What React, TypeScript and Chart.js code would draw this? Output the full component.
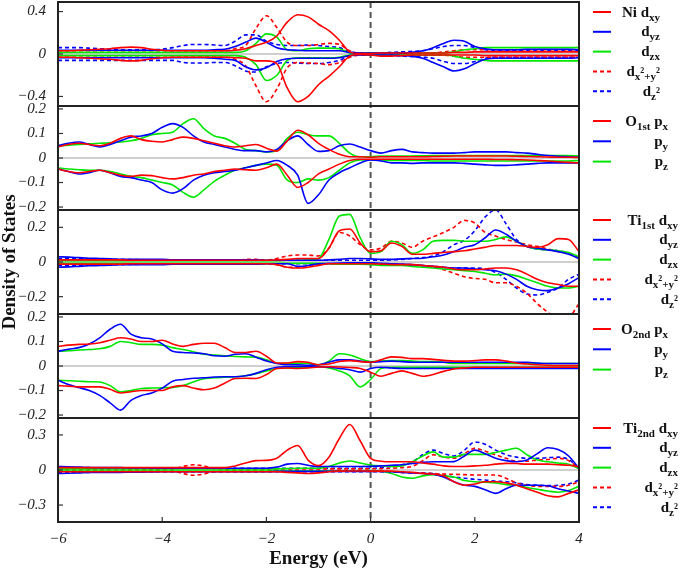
import React, { useEffect, useRef } from 'react';
import { Chart, registerables } from 'chart.js';

Chart.register(...registerables);

// ---------------- data ----------------
const ENERGY = [-6, -5.8, -5.6, -5.4, -5.2, -5, -4.8, -4.6, -4.4, -4.2,
  -4, -3.8, -3.6, -3.4, -3.2, -3, -2.8, -2.6, -2.4, -2.2,
  -2, -1.8, -1.6, -1.4, -1.2, -1, -0.8, -0.6, -0.4, -0.2,
  0, 0.2, 0.4, 0.6, 0.8, 1, 1.2, 1.4, 1.6, 1.8,
  2, 2.2, 2.4, 2.6, 2.8, 3, 3.2, 3.4, 3.6, 3.8,
  4];

const X_TICKS = [-6, -4, -2, 0, 2, 4];
const NI_TICKS = [-0.4, 0, 0.4];
const O1_TICKS = [-0.2, -0.1, 0, 0.1, 0.2];
const TI1_TICKS = [-0.2, 0, 0.2];
const O2_TICKS = [-0.2, -0.1, 0, 0.1, 0.2];
const TI2_TICKS = [-0.3, 0, 0.3];

const NI_LABELS = ['Ni d_{xy}', 'd_{yz}', 'd_{zx}', 'd_{x^2+y^2}', 'd_{z^2}'];
const O1_LABELS = ['O_{1st} p_{x}', 'p_{y}', 'p_{z}'];
const TI1_LABELS = ['Ti_{1st} d_{xy}', 'd_{yz}', 'd_{zx}', 'd_{x^2+y^2}', 'd_{z^2}'];
const O2_LABELS = ['O_{2nd} p_{x}', 'p_{y}', 'p_{z}'];
const TI2_LABELS = ['Ti_{2nd} d_{xy}', 'd_{yz}', 'd_{zx}', 'd_{x^2+y^2}', 'd_{z^2}'];

// Ni
const NI_DXY_UP = [0.03, 0.03, 0.035, 0.04, 0.045, 0.05, 0.06, 0.065, 0.06, 0.045,
  0.035, 0.03, 0.03, 0.03, 0.03, 0.03, 0.03, 0.035, 0.05, 0.08,
  0.11, 0.17, 0.3, 0.37, 0.35, 0.28, 0.22, 0.13, 0.02, 0.005,
  0.005, 0.01, 0.01, 0.01, 0.01, 0.01, 0.01, 0.01, 0.015, 0.015,
  0.02, 0.02, 0.02, 0.02, 0.02, 0.02, 0.02, 0.02, 0.02, 0.02,
  0.02];
const NI_DXY_DN = [-0.03, -0.03, -0.035, -0.04, -0.045, -0.05, -0.06, -0.065, -0.06, -0.045,
  -0.035, -0.03, -0.03, -0.03, -0.03, -0.03, -0.03, -0.035, -0.04, -0.065,
  -0.065, -0.09, -0.32, -0.45, -0.4, -0.29, -0.21, -0.12, -0.02, -0.005,
  -0.01, -0.02, -0.02, -0.015, -0.01, -0.01, -0.01, -0.01, -0.01, -0.01,
  -0.01, -0.015, -0.015, -0.015, -0.015, -0.015, -0.015, -0.015, -0.015, -0.015,
  -0.015];
const NI_DYZ_UP = [0.035, 0.035, 0.035, 0.035, 0.035, 0.035, 0.035, 0.035, 0.035, 0.035,
  0.035, 0.035, 0.035, 0.035, 0.035, 0.04, 0.045, 0.07, 0.11, 0.15,
  0.11, 0.06, 0.04, 0.035, 0.03, 0.03, 0.03, 0.03, 0.015, 0.01,
  0.01, 0.01, 0.01, 0.01, 0.015, 0.03, 0.06, 0.1, 0.13, 0.12,
  0.07, 0.05, 0.04, 0.04, 0.04, 0.045, 0.045, 0.045, 0.045, 0.045,
  0.04];
const NI_DYZ_DN = [-0.035, -0.035, -0.035, -0.035, -0.035, -0.035, -0.035, -0.035, -0.035, -0.035,
  -0.035, -0.035, -0.035, -0.035, -0.035, -0.04, -0.05, -0.06, -0.12, -0.15,
  -0.13, -0.07, -0.045, -0.04, -0.04, -0.04, -0.04, -0.035, -0.015, -0.01,
  -0.01, -0.01, -0.01, -0.015, -0.02, -0.04, -0.08, -0.12, -0.16, -0.14,
  -0.09, -0.05, -0.04, -0.04, -0.04, -0.04, -0.04, -0.04, -0.04, -0.04,
  -0.035];
const NI_DZX_UP = [0.015, 0.015, 0.015, 0.015, 0.015, 0.015, 0.015, 0.015, 0.015, 0.015,
  0.015, 0.015, 0.015, 0.015, 0.015, 0.015, 0.015, 0.015, 0.03, 0.1,
  0.19, 0.16, 0.04, 0.03, 0.05, 0.055, 0.055, 0.05, 0.01, 0.005,
  0.01, 0.01, 0.01, 0.01, 0.01, 0.01, 0.01, 0.01, 0.02, 0.04,
  0.05, 0.06, 0.06, 0.06, 0.06, 0.06, 0.06, 0.06, 0.06, 0.06,
  0.06];
const NI_DZX_DN = [-0.015, -0.015, -0.015, -0.015, -0.015, -0.015, -0.015, -0.015, -0.015, -0.015,
  -0.015, -0.015, -0.015, -0.015, -0.015, -0.015, -0.015, -0.015, -0.03, -0.1,
  -0.25, -0.2, -0.06, -0.035, -0.035, -0.035, -0.035, -0.03, -0.01, -0.005,
  -0.01, -0.01, -0.01, -0.01, -0.01, -0.01, -0.01, -0.01, -0.02, -0.04,
  -0.05, -0.06, -0.065, -0.065, -0.065, -0.065, -0.065, -0.065, -0.065, -0.065,
  -0.065];
const NI_DX2_UP = [0.03, 0.03, 0.03, 0.03, 0.03, 0.03, 0.03, 0.03, 0.03, 0.03,
  0.03, 0.03, 0.03, 0.03, 0.03, 0.03, 0.03, 0.05, 0.08, 0.24,
  0.36, 0.25, 0.11, 0.08, 0.08, 0.09, 0.1, 0.09, 0.03, 0.01,
  0.01, 0.01, 0.01, 0.01, 0.01, 0.01, 0.01, 0.02, 0.03, 0.04,
  0.04, 0.04, 0.04, 0.04, 0.04, 0.04, 0.04, 0.04, 0.04, 0.04,
  0.04];
const NI_DX2_DN = [-0.03, -0.03, -0.03, -0.03, -0.03, -0.03, -0.03, -0.03, -0.03, -0.03,
  -0.03, -0.03, -0.03, -0.03, -0.03, -0.03, -0.03, -0.05, -0.11, -0.3,
  -0.45, -0.33, -0.13, -0.08, -0.085, -0.09, -0.1, -0.08, -0.03, -0.01,
  -0.01, -0.01, -0.01, -0.01, -0.01, -0.01, -0.01, -0.01, -0.02, -0.03,
  -0.03, -0.03, -0.03, -0.03, -0.03, -0.03, -0.03, -0.03, -0.03, -0.03,
  -0.03];
const NI_DZ2_UP = [0.06, 0.06, 0.06, 0.055, 0.05, 0.045, 0.04, 0.04, 0.04, 0.04,
  0.045, 0.06, 0.08, 0.09, 0.09, 0.085, 0.08, 0.12, 0.18, 0.18,
  0.12, 0.09, 0.08, 0.08, 0.085, 0.08, 0.07, 0.06, 0.02, 0.01,
  0.01, 0.01, 0.015, 0.02, 0.025, 0.03, 0.05, 0.07, 0.08, 0.08,
  0.06, 0.04, 0.03, 0.03, 0.03, 0.03, 0.03, 0.03, 0.03, 0.03,
  0.03];
const NI_DZ2_DN = [-0.06, -0.06, -0.06, -0.06, -0.06, -0.06, -0.06, -0.06, -0.06, -0.06,
  -0.06, -0.06, -0.08, -0.085, -0.085, -0.08, -0.08, -0.11, -0.16, -0.17,
  -0.12, -0.09, -0.08, -0.085, -0.09, -0.09, -0.08, -0.06, -0.02, -0.01,
  -0.01, -0.01, -0.015, -0.02, -0.025, -0.03, -0.04, -0.07, -0.09, -0.09,
  -0.07, -0.04, -0.03, -0.03, -0.03, -0.03, -0.03, -0.03, -0.03, -0.03,
  -0.03];

// O 1st
const O1_PX_UP = [0.045, 0.055, 0.06, 0.055, 0.05, 0.06, 0.08, 0.09, 0.075, 0.068,
  0.065, 0.075, 0.085, 0.08, 0.07, 0.06, 0.05, 0.045, 0.05, 0.055,
  0.04, 0.028, 0.07, 0.113, 0.095, 0.06, 0.035, 0.015, 0.005, 0.005,
  0.003, 0.005, 0.005, 0.005, 0.005, 0.005, 0.006, 0.007, 0.008, 0.008,
  0.008, 0.008, 0.008, 0.008, 0.007, 0.006, 0.005, 0.004, 0.003, 0.003,
  0.002];
const O1_PX_DN = [-0.045, -0.055, -0.06, -0.055, -0.05, -0.06, -0.07, -0.075, -0.07, -0.072,
  -0.08, -0.085, -0.08, -0.07, -0.065, -0.055, -0.05, -0.045, -0.048, -0.05,
  -0.04, -0.025, -0.07, -0.12, -0.1, -0.065, -0.045, -0.025, -0.01, -0.005,
  -0.005, -0.005, -0.005, -0.005, -0.005, -0.005, -0.005, -0.005, -0.005, -0.005,
  -0.005, -0.005, -0.006, -0.006, -0.007, -0.008, -0.01, -0.012, -0.015, -0.018,
  -0.02];
const O1_PY_UP = [0.05, 0.06, 0.065, 0.055, 0.045, 0.055, 0.07, 0.085, 0.09, 0.1,
  0.125, 0.14, 0.125, 0.09, 0.065, 0.055, 0.045, 0.035, 0.03, 0.03,
  0.025, 0.035, 0.07, 0.09, 0.055, 0.027, 0.03, 0.05, 0.057, 0.045,
  0.03, 0.02, 0.03, 0.035, 0.025, 0.022, 0.02, 0.02, 0.02, 0.022,
  0.025, 0.025, 0.025, 0.025, 0.022, 0.02, 0.015, 0.01, 0.007, 0.005,
  0.003];
const O1_PY_DN = [-0.045, -0.055, -0.065, -0.06, -0.05, -0.06, -0.075, -0.08, -0.09, -0.1,
  -0.13, -0.143, -0.125, -0.09, -0.07, -0.06, -0.055, -0.05, -0.04, -0.03,
  -0.02, -0.01, -0.03, -0.07, -0.185, -0.15, -0.09, -0.06, -0.04, -0.02,
  -0.008, -0.012, -0.02, -0.02, -0.022, -0.02, -0.02, -0.02, -0.02, -0.022,
  -0.025, -0.028, -0.03, -0.03, -0.028, -0.025, -0.022, -0.02, -0.02, -0.02,
  -0.02];
const O1_PZ_UP = [0.05, 0.052, 0.055, 0.058, 0.06, 0.062, 0.065, 0.07, 0.08, 0.095,
  0.1, 0.105, 0.14, 0.16, 0.12, 0.09, 0.08, 0.06, 0.035, 0.03,
  0.025, 0.03, 0.08, 0.105, 0.095, 0.09, 0.09, 0.06, 0.02, 0.005,
  0.005, 0.008, 0.008, 0.008, 0.008, 0.009, 0.01, 0.01, 0.01, 0.01,
  0.01, 0.01, 0.01, 0.01, 0.01, 0.01, 0.01, 0.01, 0.01, 0.01,
  0.008];
const O1_PZ_DN = [-0.04, -0.045, -0.048, -0.05, -0.05, -0.055, -0.065, -0.075, -0.08, -0.09,
  -0.1, -0.11, -0.14, -0.16, -0.13, -0.095, -0.07, -0.05, -0.04, -0.03,
  -0.025, -0.03, -0.09, -0.1, -0.085, -0.09, -0.08, -0.05, -0.02, -0.008,
  -0.008, -0.008, -0.01, -0.01, -0.01, -0.01, -0.012, -0.012, -0.012, -0.012,
  -0.012, -0.012, -0.012, -0.012, -0.012, -0.012, -0.012, -0.012, -0.012, -0.012,
  -0.01];

// Ti 1st
const TI1_DXY_UP = [0.012, 0.012, 0.012, 0.012, 0.012, 0.012, 0.012, 0.01, 0.01, 0.01,
  0.01, 0.01, 0.01, 0.01, 0.01, 0.01, 0.01, 0.01, 0.01, 0.01,
  0.01, 0.012, 0.015, 0.02, 0.02, 0.02, 0.08, 0.18, 0.19, 0.11,
  0.06, 0.065, 0.11, 0.09, 0.045, 0.045, 0.05, 0.055, 0.06, 0.065,
  0.075, 0.085, 0.095, 0.095, 0.095, 0.09, 0.085, 0.1, 0.135, 0.13,
  0.06];
const TI1_DXY_DN = [-0.012, -0.012, -0.012, -0.012, -0.012, -0.012, -0.012, -0.01, -0.01, -0.01,
  -0.01, -0.01, -0.01, -0.01, -0.01, -0.01, -0.01, -0.01, -0.01, -0.01,
  -0.01, -0.015, -0.03, -0.035, -0.03, -0.02, -0.01, -0.01, -0.01, -0.01,
  -0.01, -0.012, -0.015, -0.015, -0.015, -0.02, -0.025, -0.03, -0.04, -0.045,
  -0.045, -0.04, -0.035, -0.035, -0.045, -0.07, -0.1, -0.12, -0.13, -0.14,
  -0.14];
const TI1_DYZ_UP = [0.03, 0.028, 0.025, 0.022, 0.02, 0.018, 0.015, 0.015, 0.015, 0.015,
  0.015, 0.012, 0.012, 0.012, 0.012, 0.012, 0.012, 0.012, 0.012, 0.012,
  0.01, 0.01, 0.01, 0.01, 0.01, 0.01, 0.012, 0.015, 0.02, 0.02,
  0.018, 0.015, 0.015, 0.018, 0.02, 0.022, 0.03, 0.04, 0.06, 0.085,
  0.1, 0.14, 0.185, 0.16, 0.12, 0.09, 0.08, 0.07, 0.06, 0.045,
  0.02];
const TI1_DYZ_DN = [-0.03, -0.028, -0.025, -0.022, -0.02, -0.018, -0.015, -0.015, -0.015, -0.015,
  -0.015, -0.012, -0.012, -0.012, -0.012, -0.012, -0.012, -0.012, -0.012, -0.012,
  -0.01, -0.01, -0.01, -0.025, -0.02, -0.01, -0.008, -0.006, -0.005, -0.005,
  -0.005, -0.008, -0.01, -0.012, -0.015, -0.02, -0.025, -0.03, -0.035, -0.035,
  -0.04, -0.045, -0.05, -0.07, -0.1, -0.14, -0.16, -0.165, -0.15, -0.125,
  -0.09];
const TI1_DZX_UP = [0.008, 0.008, 0.008, 0.008, 0.008, 0.008, 0.008, 0.008, 0.008, 0.008,
  0.008, 0.008, 0.008, 0.008, 0.008, 0.008, 0.008, 0.008, 0.008, 0.008,
  0.008, 0.008, 0.01, 0.01, 0.012, 0.02, 0.13, 0.265, 0.275, 0.14,
  0.05, 0.06, 0.12, 0.1, 0.05, 0.07, 0.12, 0.125, 0.125, 0.12,
  0.12, 0.12, 0.13, 0.145, 0.12, 0.09, 0.075, 0.07, 0.065, 0.055,
  0.03];
const TI1_DZX_DN = [-0.008, -0.008, -0.008, -0.008, -0.008, -0.008, -0.008, -0.008, -0.008, -0.008,
  -0.008, -0.008, -0.008, -0.008, -0.008, -0.008, -0.008, -0.008, -0.008, -0.008,
  -0.008, -0.008, -0.008, -0.008, -0.008, -0.008, -0.01, -0.012, -0.012, -0.012,
  -0.015, -0.02, -0.02, -0.02, -0.025, -0.03, -0.035, -0.04, -0.045, -0.05,
  -0.055, -0.065, -0.075, -0.07, -0.08, -0.1, -0.12, -0.14, -0.15, -0.15,
  -0.14];
const TI1_DX2_UP = [0.01, 0.01, 0.01, 0.01, 0.01, 0.01, 0.01, 0.01, 0.01, 0.01,
  0.01, 0.01, 0.01, 0.01, 0.01, 0.01, 0.01, 0.01, 0.015, 0.015,
  0.01, 0.02, 0.035, 0.04, 0.04, 0.035, 0.08, 0.17, 0.15, 0.1,
  0.07, 0.08, 0.12, 0.11, 0.085, 0.12, 0.145, 0.17, 0.2, 0.24,
  0.225, 0.17, 0.15, 0.13, 0.115, 0.1, 0.09, 0.075, 0.06, 0.05,
  0.025];
const TI1_DX2_DN = [-0.01, -0.01, -0.01, -0.01, -0.01, -0.01, -0.01, -0.01, -0.01, -0.01,
  -0.01, -0.01, -0.01, -0.01, -0.01, -0.01, -0.01, -0.01, -0.01, -0.01,
  -0.01, -0.015, -0.03, -0.03, -0.025, -0.015, -0.01, -0.01, -0.01, -0.01,
  -0.01, -0.012, -0.012, -0.015, -0.015, -0.02, -0.03, -0.045, -0.065, -0.085,
  -0.095, -0.1, -0.12, -0.12, -0.14, -0.18, -0.24, -0.29, -0.33, -0.32,
  -0.24];
const TI1_DZ2_UP = [0.02, 0.02, 0.02, 0.018, 0.016, 0.015, 0.015, 0.014, 0.013, 0.012,
  0.01, 0.01, 0.01, 0.01, 0.01, 0.01, 0.01, 0.01, 0.01, 0.01,
  0.01, 0.01, 0.01, 0.01, 0.01, 0.01, 0.01, 0.01, 0.01, 0.01,
  0.01, 0.01, 0.012, 0.015, 0.02, 0.025, 0.035, 0.06, 0.1, 0.125,
  0.18, 0.26, 0.3, 0.22, 0.13, 0.09, 0.075, 0.07, 0.065, 0.05,
  0.025];
const TI1_DZ2_DN = [-0.02, -0.02, -0.02, -0.018, -0.016, -0.015, -0.015, -0.014, -0.013, -0.012,
  -0.01, -0.01, -0.01, -0.01, -0.01, -0.01, -0.01, -0.01, -0.01, -0.01,
  -0.01, -0.01, -0.01, -0.01, -0.01, -0.01, -0.01, -0.01, -0.01, -0.01,
  -0.01, -0.01, -0.012, -0.015, -0.018, -0.02, -0.025, -0.03, -0.035, -0.035,
  -0.035, -0.04, -0.06, -0.1, -0.15, -0.185, -0.19, -0.175, -0.15, -0.1,
  -0.07];

// O 2nd
const O2_PX_UP = [0.08, 0.085, 0.088, 0.09, 0.095, 0.105, 0.115, 0.11, 0.1, 0.1,
  0.105, 0.09, 0.08, 0.088, 0.093, 0.093, 0.075, 0.055, 0.055, 0.06,
  0.04, 0.012, 0.012, 0.018, 0.015, 0.005, 0.008, 0.018, 0.022, 0.018,
  0.015, 0.025, 0.037, 0.035, 0.03, 0.03, 0.027, 0.023, 0.02, 0.02,
  0.022, 0.025, 0.025, 0.02, 0.012, 0.008, 0.005, 0.003, 0.002, 0.002,
  0.002];
const O2_PX_DN = [-0.08, -0.082, -0.085, -0.085, -0.085, -0.095, -0.11, -0.105, -0.1, -0.1,
  -0.1, -0.085, -0.08, -0.09, -0.097, -0.09, -0.07, -0.051, -0.05, -0.051,
  -0.035, -0.01, -0.008, -0.01, -0.008, -0.004, -0.003, -0.004, -0.006, -0.01,
  -0.025, -0.042, -0.03, -0.02, -0.03, -0.042, -0.035, -0.022, -0.012, -0.008,
  -0.005, -0.005, -0.005, -0.005, -0.005, -0.005, -0.005, -0.005, -0.005, -0.005,
  -0.005];
const O2_PY_UP = [0.06, 0.068, 0.075, 0.09, 0.115, 0.15, 0.17, 0.13, 0.115, 0.11,
  0.09, 0.06, 0.055, 0.053, 0.05, 0.042, 0.04, 0.048, 0.05, 0.036,
  0.02, 0.01, 0.005, 0.005, 0.003, 0.005, 0.015, 0.025, 0.025, 0.02,
  0.015, 0.018, 0.02, 0.018, 0.015, 0.015, 0.015, 0.015, 0.015, 0.015,
  0.015, 0.015, 0.015, 0.015, 0.015, 0.015, 0.012, 0.01, 0.01, 0.01,
  0.01];
const O2_PY_DN = [-0.058, -0.075, -0.088, -0.1, -0.12, -0.15, -0.18, -0.14, -0.12, -0.11,
  -0.09, -0.062, -0.055, -0.05, -0.048, -0.045, -0.044, -0.044, -0.04, -0.03,
  -0.015, -0.005, -0.003, -0.002, -0.002, -0.003, -0.005, -0.01, -0.015, -0.025,
  -0.01, -0.005, -0.008, -0.01, -0.01, -0.01, -0.01, -0.01, -0.01, -0.01,
  -0.01, -0.01, -0.01, -0.01, -0.01, -0.01, -0.01, -0.01, -0.01, -0.01,
  -0.01];
const O2_PZ_UP = [0.06, 0.062, 0.065, 0.067, 0.07, 0.08, 0.1, 0.095, 0.088, 0.088,
  0.085, 0.075, 0.067, 0.058, 0.048, 0.045, 0.042, 0.039, 0.037, 0.036,
  0.025, 0.011, 0.01, 0.011, 0.01, 0.005, 0.02, 0.05, 0.045, 0.03,
  0.018, 0.02, 0.022, 0.022, 0.02, 0.018, 0.018, 0.015, 0.01, 0.01,
  0.01, 0.01, 0.01, 0.01, 0.01, 0.01, 0.01, 0.01, 0.01, 0.01,
  0.01];
const O2_PZ_DN = [-0.058, -0.06, -0.062, -0.064, -0.065, -0.08, -0.105, -0.1, -0.092, -0.09,
  -0.089, -0.087, -0.08, -0.065, -0.052, -0.048, -0.046, -0.044, -0.04, -0.031,
  -0.02, -0.01, -0.008, -0.006, -0.005, -0.003, -0.008, -0.02, -0.04, -0.085,
  -0.055, -0.01, -0.005, -0.005, -0.005, -0.005, -0.005, -0.005, -0.005, -0.005,
  -0.005, -0.005, -0.005, -0.005, -0.005, -0.005, -0.005, -0.005, -0.005, -0.005,
  -0.005];

// Ti 2nd
const TI2_DXY_UP = [0.02, 0.02, 0.02, 0.02, 0.02, 0.02, 0.02, 0.02, 0.02, 0.02,
  0.02, 0.02, 0.02, 0.02, 0.02, 0.02, 0.02, 0.035, 0.06, 0.08,
  0.082, 0.1, 0.17, 0.21, 0.085, 0.038, 0.11, 0.27, 0.39, 0.25,
  0.1, 0.075, 0.07, 0.07, 0.07, 0.06, 0.05, 0.035, 0.03, 0.03,
  0.035, 0.04, 0.05, 0.057, 0.055, 0.05, 0.05, 0.05, 0.045, 0.04,
  0.03];
const TI2_DXY_DN = [-0.015, -0.015, -0.015, -0.015, -0.015, -0.015, -0.015, -0.015, -0.015, -0.015,
  -0.015, -0.015, -0.015, -0.015, -0.015, -0.015, -0.015, -0.015, -0.015, -0.015,
  -0.015, -0.015, -0.02, -0.025, -0.03, -0.025, -0.015, -0.01, -0.008, -0.008,
  -0.01, -0.01, -0.01, -0.015, -0.02, -0.03, -0.035, -0.05, -0.1, -0.13,
  -0.12, -0.1, -0.1, -0.11, -0.13, -0.16, -0.19, -0.22, -0.23, -0.2,
  -0.17];
const TI2_DYZ_UP = [0.03, 0.028, 0.025, 0.022, 0.02, 0.02, 0.02, 0.018, 0.018, 0.016,
  0.015, 0.015, 0.015, 0.015, 0.015, 0.015, 0.015, 0.015, 0.015, 0.015,
  0.015, 0.025, 0.05, 0.055, 0.04, 0.03, 0.03, 0.03, 0.03, 0.03,
  0.032, 0.035, 0.04, 0.045, 0.055, 0.065, 0.07, 0.07, 0.072, 0.12,
  0.17, 0.14, 0.1, 0.08, 0.07, 0.085, 0.14, 0.19, 0.175, 0.12,
  0.015];
const TI2_DYZ_DN = [-0.03, -0.028, -0.025, -0.022, -0.02, -0.02, -0.02, -0.018, -0.018, -0.016,
  -0.015, -0.015, -0.015, -0.015, -0.015, -0.015, -0.015, -0.015, -0.015, -0.015,
  -0.015, -0.012, -0.012, -0.012, -0.012, -0.012, -0.012, -0.012, -0.012, -0.012,
  -0.012, -0.013, -0.015, -0.02, -0.025, -0.03, -0.035, -0.06, -0.1, -0.13,
  -0.14, -0.17, -0.2, -0.16, -0.13, -0.13, -0.13, -0.135, -0.16, -0.18,
  -0.2];
const TI2_DZX_UP = [0.01, 0.01, 0.01, 0.01, 0.01, 0.01, 0.01, 0.01, 0.01, 0.01,
  0.01, 0.01, 0.01, 0.01, 0.01, 0.01, 0.01, 0.01, 0.01, 0.01,
  0.01, 0.01, 0.012, 0.015, 0.015, 0.015, 0.03, 0.06, 0.077, 0.06,
  0.043, 0.035, 0.03, 0.035, 0.07, 0.12, 0.155, 0.11, 0.11, 0.134,
  0.134, 0.134, 0.15, 0.17, 0.186, 0.13, 0.086, 0.07, 0.06, 0.05,
  0.01];
const TI2_DZX_DN = [-0.01, -0.01, -0.01, -0.01, -0.01, -0.01, -0.01, -0.01, -0.01, -0.01,
  -0.01, -0.01, -0.01, -0.01, -0.01, -0.01, -0.01, -0.01, -0.01, -0.01,
  -0.01, -0.01, -0.01, -0.01, -0.01, -0.01, -0.01, -0.01, -0.01, -0.01,
  -0.005, -0.01, -0.03, -0.06, -0.07, -0.05, -0.04, -0.05, -0.06, -0.09,
  -0.1, -0.105, -0.11, -0.125, -0.13, -0.15, -0.165, -0.18, -0.19, -0.175,
  -0.14];
const TI2_DX2_UP = [0.01, 0.01, 0.01, 0.01, 0.01, 0.01, 0.01, 0.01, 0.01, 0.01,
  0.01, 0.01, 0.03, 0.045, 0.035, 0.012, 0.01, 0.01, 0.01, 0.01,
  0.01, 0.01, 0.01, 0.01, 0.01, 0.01, 0.01, 0.01, 0.01, 0.01,
  0.01, 0.012, 0.015, 0.02, 0.03, 0.08, 0.13, 0.11, 0.1, 0.14,
  0.185, 0.16, 0.13, 0.1, 0.075, 0.075, 0.086, 0.09, 0.1, 0.08,
  0.015];
const TI2_DX2_DN = [-0.01, -0.01, -0.01, -0.01, -0.01, -0.01, -0.01, -0.01, -0.01, -0.01,
  -0.01, -0.01, -0.03, -0.045, -0.035, -0.012, -0.01, -0.01, -0.01, -0.01,
  -0.01, -0.01, -0.01, -0.01, -0.01, -0.01, -0.01, -0.01, -0.01, -0.01,
  -0.012, -0.012, -0.015, -0.02, -0.022, -0.025, -0.03, -0.035, -0.037, -0.04,
  -0.043, -0.043, -0.043, -0.07, -0.11, -0.13, -0.14, -0.14, -0.14, -0.13,
  -0.1];
const TI2_DZ2_UP = [0.02, 0.02, 0.02, 0.02, 0.018, 0.018, 0.016, 0.016, 0.015, 0.015,
  0.015, 0.015, 0.015, 0.015, 0.015, 0.015, 0.015, 0.015, 0.015, 0.015,
  0.015, 0.015, 0.015, 0.015, 0.015, 0.015, 0.015, 0.015, 0.015, 0.015,
  0.015, 0.02, 0.03, 0.045, 0.07, 0.13, 0.17, 0.14, 0.12, 0.17,
  0.24, 0.22, 0.17, 0.13, 0.11, 0.1, 0.1, 0.105, 0.11, 0.09,
  0.015];
const TI2_DZ2_DN = [-0.02, -0.02, -0.02, -0.02, -0.018, -0.018, -0.016, -0.016, -0.015, -0.015,
  -0.015, -0.015, -0.015, -0.015, -0.015, -0.015, -0.015, -0.015, -0.015, -0.015,
  -0.015, -0.015, -0.015, -0.015, -0.015, -0.015, -0.015, -0.015, -0.015, -0.015,
  -0.012, -0.015, -0.018, -0.02, -0.025, -0.028, -0.03, -0.045, -0.06, -0.07,
  -0.08, -0.086, -0.095, -0.1, -0.11, -0.125, -0.13, -0.134, -0.13, -0.12,
  -0.086];

// ---------------- styling / assembly ----------------
const RED = '#ff0000';
const BLUE = '#0000ff';
const GREEN = '#00e600';
const SERIF = '"Liberation Serif", "Times New Roman", serif';

type S = { up: number[]; dn: number[]; color: string; dash: boolean };
type Panel = { id: string; range: number; ticks: number[]; labels: string[]; series: S[]; legendRight: number };

const d5 = (a: number[][]): S[] => [
  { up: a[0], dn: a[1], color: RED, dash: false },
  { up: a[2], dn: a[3], color: BLUE, dash: false },
  { up: a[4], dn: a[5], color: GREEN, dash: false },
  { up: a[6], dn: a[7], color: RED, dash: true },
  { up: a[8], dn: a[9], color: BLUE, dash: true },
];
const p3 = (a: number[][]): S[] => [
  { up: a[0], dn: a[1], color: RED, dash: false },
  { up: a[2], dn: a[3], color: BLUE, dash: false },
  { up: a[4], dn: a[5], color: GREEN, dash: false },
];

const PANELS: Panel[] = [
  { id: 'y1', range: 0.49, ticks: NI_TICKS, labels: NI_LABELS, legendRight: 81,
    series: d5([NI_DXY_UP, NI_DXY_DN, NI_DYZ_UP, NI_DYZ_DN, NI_DZX_UP, NI_DZX_DN, NI_DX2_UP, NI_DX2_DN, NI_DZ2_UP, NI_DZ2_DN]) },
  { id: 'y2', range: 0.212, ticks: O1_TICKS, labels: O1_LABELS, legendRight: 89,
    series: p3([O1_PX_UP, O1_PX_DN, O1_PY_UP, O1_PY_DN, O1_PZ_UP, O1_PZ_DN]) },
  { id: 'y3', range: 0.3, ticks: TI1_TICKS, labels: TI1_LABELS, legendRight: 99,
    series: d5([TI1_DXY_UP, TI1_DXY_DN, TI1_DYZ_UP, TI1_DYZ_DN, TI1_DZX_UP, TI1_DZX_DN, TI1_DX2_UP, TI1_DX2_DN, TI1_DZ2_UP, TI1_DZ2_DN]) },
  { id: 'y4', range: 0.212, ticks: O2_TICKS, labels: O2_LABELS, legendRight: 89,
    series: p3([O2_PX_UP, O2_PX_DN, O2_PY_UP, O2_PY_DN, O2_PZ_UP, O2_PZ_DN]) },
  { id: 'y5', range: 0.445, ticks: TI2_TICKS, labels: TI2_LABELS, legendRight: 99,
    series: d5([TI2_DXY_UP, TI2_DXY_DN, TI2_DYZ_UP, TI2_DYZ_DN, TI2_DZX_UP, TI2_DZX_DN, TI2_DX2_UP, TI2_DX2_DN, TI2_DZ2_UP, TI2_DZ2_DN]) },
];

const fmt = (v: number) => (v === 0 ? '0' : v < 0 ? '\u2212' + String(Math.abs(v)) : String(v));

function parseLabel(s: string) {
  const segs: { t: string; l: number }[] = [];
  let level = 0;
  let buf = '';
  const push = () => { if (buf) { segs.push({ t: buf, l: level }); buf = ''; } };
  for (let i = 0; i < s.length; i++) {
    const c = s[i];
    if (c === '_' && s[i + 1] === '{') { push(); level = 1; i++; }
    else if (c === '}') { push(); level = 0; }
    else if (c === '^') { push(); segs.push({ t: s[i + 1], l: 2 }); i++; }
    else buf += c;
  }
  push();
  return segs;
}

const LEVEL_FONT = [`bold 15px ${SERIF}`, `bold 11px ${SERIF}`, `bold 8px ${SERIF}`];
const LEVEL_DY = [0, 4, -3];

const decor = {
  id: 'decor',
  beforeDatasetsDraw(chart: any) {
    const { ctx, chartArea } = chart;
    ctx.save();
    ctx.strokeStyle = '#a0a0a0';
    ctx.lineWidth = 1.2;
    PANELS.forEach((p) => {
      const y = chart.scales[p.id].getPixelForValue(0);
      ctx.beginPath();
      ctx.moveTo(chartArea.left, y);
      ctx.lineTo(chartArea.right, y);
      ctx.stroke();
    });
    const x0 = chart.scales.x.getPixelForValue(0);
    ctx.strokeStyle = '#555555';
    ctx.lineWidth = 2;
    ctx.setLineDash([6, 4]);
    ctx.beginPath();
    ctx.moveTo(x0, chartArea.top);
    ctx.lineTo(x0, chartArea.bottom);
    ctx.stroke();
    ctx.restore();
  },
  afterDraw(chart: any) {
    const { ctx, chartArea } = chart;
    const { left, right, bottom } = chartArea;
    ctx.save();
    // tick marks (inward)
    ctx.strokeStyle = '#333';
    ctx.lineWidth = 1.2;
    PANELS.forEach((p) => {
      const s = chart.scales[p.id];
      p.ticks.forEach((v) => {
        const y = s.getPixelForValue(v);
        ctx.beginPath();
        ctx.moveTo(left, y);
        ctx.lineTo(left + 5, y);
        ctx.stroke();
      });
    });
    const xs = chart.scales.x;
    X_TICKS.forEach((v) => {
      const x = xs.getPixelForValue(v);
      ctx.beginPath();
      ctx.moveTo(x, bottom);
      ctx.lineTo(x, bottom - 5);
      ctx.stroke();
    });
    // frames
    ctx.strokeStyle = '#222';
    ctx.lineWidth = 2;
    PANELS.forEach((p) => {
      const s = chart.scales[p.id];
      ctx.strokeRect(left, s.top, right - left, s.bottom - s.top);
    });
    // legends
    PANELS.forEach((p) => {
      const s = chart.scales[p.id];
      const n = p.labels.length;
      const y0 = s.top + (n === 5 ? 10 : 15);
      const step = n === 5 ? 19.8 : 20.3;
      p.labels.forEach((lab, i) => {
        const y = y0 + i * step;
        const ser = p.series[i];
        ctx.strokeStyle = ser.color;
        ctx.lineWidth = 2;
        ctx.setLineDash(ser.dash ? [4, 3] : []);
        ctx.beginPath();
        ctx.moveTo(right + 14, y);
        ctx.lineTo(right + 32, y);
        ctx.stroke();
        ctx.setLineDash([]);
        const segs = parseLabel(lab);
        let w = 0;
        segs.forEach((sg) => { ctx.font = LEVEL_FONT[sg.l]; w += ctx.measureText(sg.t).width; });
        let x = right + p.legendRight - w;
        ctx.fillStyle = '#111';
        ctx.textBaseline = 'alphabetic';
        ctx.textAlign = 'left';
        segs.forEach((sg) => {
          ctx.font = LEVEL_FONT[sg.l];
          ctx.fillText(sg.t, x, y + 4.5 + LEVEL_DY[sg.l]);
          x += ctx.measureText(sg.t).width;
        });
      });
    });
    ctx.restore();
  },
};

export default function App() {
  const ref = useRef<HTMLCanvasElement | null>(null);
  useEffect(() => {
    if (!ref.current) return;
    const datasets: any[] = [];
    PANELS.forEach((p) => {
      p.series.forEach((s) => {
        [s.up, s.dn].forEach((arr) => {
          datasets.push({
            data: ENERGY.map((e, i) => ({ x: e, y: arr[i] })),
            yAxisID: p.id,
            xAxisID: 'x',
            borderColor: s.color,
            borderWidth: 1.6,
            borderDash: s.dash ? [4, 3] : [],
            pointRadius: 0,
            fill: false,
            cubicInterpolationMode: 'monotone',
          });
        });
      });
    });
    const scales: any = {
      x: {
        type: 'linear',
        position: 'bottom',
        min: -6,
        max: 4,
        grid: { display: false, drawTicks: false },
        border: { display: false },
        afterBuildTicks: (sc: any) => { sc.ticks = X_TICKS.map((v) => ({ value: v })); },
        afterFit: (sc: any) => {
          sc.height = 48;
          sc.paddingLeft = 0;
          sc.paddingRight = 0;
        },
        ticks: {
          autoSkip: false,
          maxRotation: 0,
          padding: 8,
          color: '#222',
          font: { family: SERIF, size: 15, style: 'italic' },
          callback: (v: any) => fmt(Number(v)),
        },
        title: {
          display: true,
          text: 'Energy (eV)',
          color: '#111',
          font: { family: SERIF, size: 19, weight: 'bold', lineHeight: 1.1 },
          padding: { top: 0, bottom: 0 },
        },
      },
    };
    PANELS.forEach((p, k) => {
      scales[p.id] = {
        type: 'linear',
        position: 'left',
        stack: 'dos',
        stackWeight: 1,
        weight: 10 - k,
        min: -p.range,
        max: p.range,
        grid: { display: false, drawTicks: false },
        border: { display: false },
        afterBuildTicks: (sc: any) => { sc.ticks = p.ticks.map((v) => ({ value: v })); },
        afterFit: (sc: any) => {
          sc.width = 58;
          sc.paddingTop = 0;
          sc.paddingBottom = 0;
        },
        ticks: {
          autoSkip: false,
          padding: 12,
          color: '#222',
          font: { family: SERIF, size: 15, style: 'italic' },
          callback: (v: any) => fmt(Number(v)),
        },
        title: k === 2
          ? {
            display: true,
            text: 'Density of States',
            color: '#111',
            font: { family: SERIF, size: 19, weight: 'bold', lineHeight: 1.1 },
            padding: { top: 0, bottom: 0 },
          }
          : { display: false },
      };
    });
    const chart = new Chart(ref.current, {
      type: 'line',
      data: { datasets },
      options: {
        animation: false,
        responsive: true,
        maintainAspectRatio: false,
        devicePixelRatio: 1,
        parsing: false as any,
        normalized: true,
        layout: { padding: { top: 2, right: 106, bottom: 0, left: 0 } },
        plugins: { legend: { display: false }, tooltip: { enabled: false } },
        events: [],
        scales,
      } as any,
      plugins: [decor],
    });
    return () => chart.destroy();
  }, []);
  return (
    <div style={{ position: 'fixed', left: 0, top: 0, width: 685, height: 570, background: '#fff' }}>
      <canvas ref={ref} />
    </div>
  );
}
